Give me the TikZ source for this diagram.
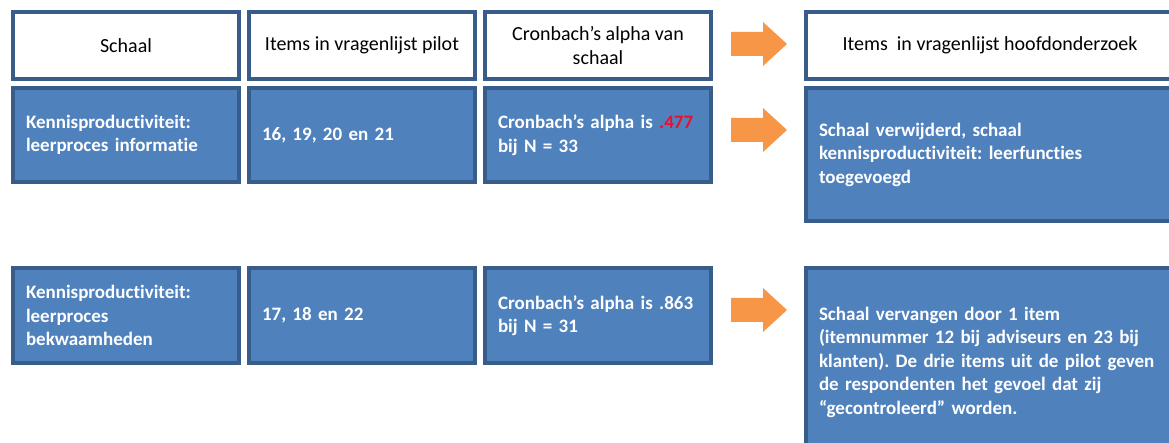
\documentclass[tikz,border=0pt]{standalone}
\usepackage{fontspec}
\setmainfont{Carlito}[Ligatures=NoCommon]
\usepackage{xcolor}
\usetikzlibrary{positioning,calc}
\definecolor{boxblue}{HTML}{4F81BD}
\definecolor{boxline}{HTML}{385D8A}
\definecolor{arroworange}{HTML}{F79646}
\definecolor{lowalpha}{HTML}{E8102E}
\tikzset{
  headbox/.style={draw=boxline,fill=white,line width=3.2pt,outer sep=0pt,inner sep=4pt,minimum width=226pt,minimum height=67pt,align=center,font=\fontsize{20}{24.5}\selectfont},
  rowbox/.style={draw=boxline,fill=boxblue,line width=3.2pt,outer sep=0pt,inner xsep=13pt,inner ysep=4pt,minimum width=226pt,text width=200pt,align=left,text=white,font=\fontsize{19}{23.5}\selectfont\bfseries},
  resultbox/.style={rowbox,minimum width=368pt,text width=342pt},
  blockarrow/.style={fill=arroworange}
}
% block arrow from a tail point
\newcommand{\orangearrow}[1]{\fill[blockarrow] ($(#1)+(0,12pt)$) -- ++(32pt,0) -- ++(0,10pt) -- ++(24pt,-22pt) -- ++(-24pt,-22pt) -- ++(0,10pt) -- ++(-32pt,0) -- cycle;}
\frenchspacing

\begin{document}
\begin{tikzpicture}
  \useasboundingbox (0,0) rectangle (1169pt,-443pt);
  % header row
  \node[headbox,anchor=north west] (scaleHead) at (13pt,-12pt) {Schaal};
  \node[headbox,right=10pt of scaleHead] (pilotHead) {Items in vragenlijst pilot};
  \node[headbox,right=10pt of pilotHead] (alphaHead) {Cronbach’s alpha van\\schaal};
  \node[headbox,right=95pt of alphaHead,minimum width=368pt] (mainHead) {Items\ \ in vragenlijst hoofdonderzoek};
  % first scale
  \node[rowbox,below=9pt of scaleHead,minimum height=94pt] (scaleInfo) {Kennisproductiviteit:\\leerproces informatie};
  \node[rowbox,below=9pt of pilotHead,minimum height=94pt] (pilotInfo) {16, 19, 20 en 21};
  \node[rowbox,below=9pt of alphaHead,minimum height=94pt] (alphaInfo) {Cronbach’s alpha is {\color{lowalpha}.477}\\bij N = 33};
  \node[resultbox,below=9pt of mainHead,minimum height=133pt] (mainInfo) {Schaal verwijderd, schaal\\kennisproductiviteit: leerfuncties\\toegevoegd};
  % second scale
  \node[rowbox,below=86pt of scaleInfo,minimum height=95pt] (scaleSkill) {Kennisproductiviteit:\\leerproces\\bekwaamheden};
  \node[rowbox,below=86pt of pilotInfo,minimum height=95pt] (pilotSkill) {17, 18 en 22};
  \node[rowbox,below=86pt of alphaInfo,minimum height=95pt] (alphaSkill) {Cronbach’s alpha is .863\\bij N = 31};
  \node[resultbox,anchor=north,minimum height=188pt] (mainSkill) at (scaleSkill.north -| mainHead) {Schaal vervangen door 1 item\\(itemnummer 12 bij adviseurs en 23 bij\\klanten). De drie items uit de pilot geven\\de respondenten het gevoel dat zij\\“gecontroleerd” worden.};
  % arrows
  \coordinate (tailHead) at ([xshift=20pt,yshift=1.5pt]alphaHead.east);
  \coordinate (tailInfo) at ([xshift=20pt,yshift=5pt]alphaInfo.east);
  \coordinate (tailSkill) at ([xshift=20pt,yshift=5.5pt]alphaSkill.east);
  \orangearrow{tailHead}
  \orangearrow{tailInfo}
  \orangearrow{tailSkill}
\end{tikzpicture}
\end{document}
